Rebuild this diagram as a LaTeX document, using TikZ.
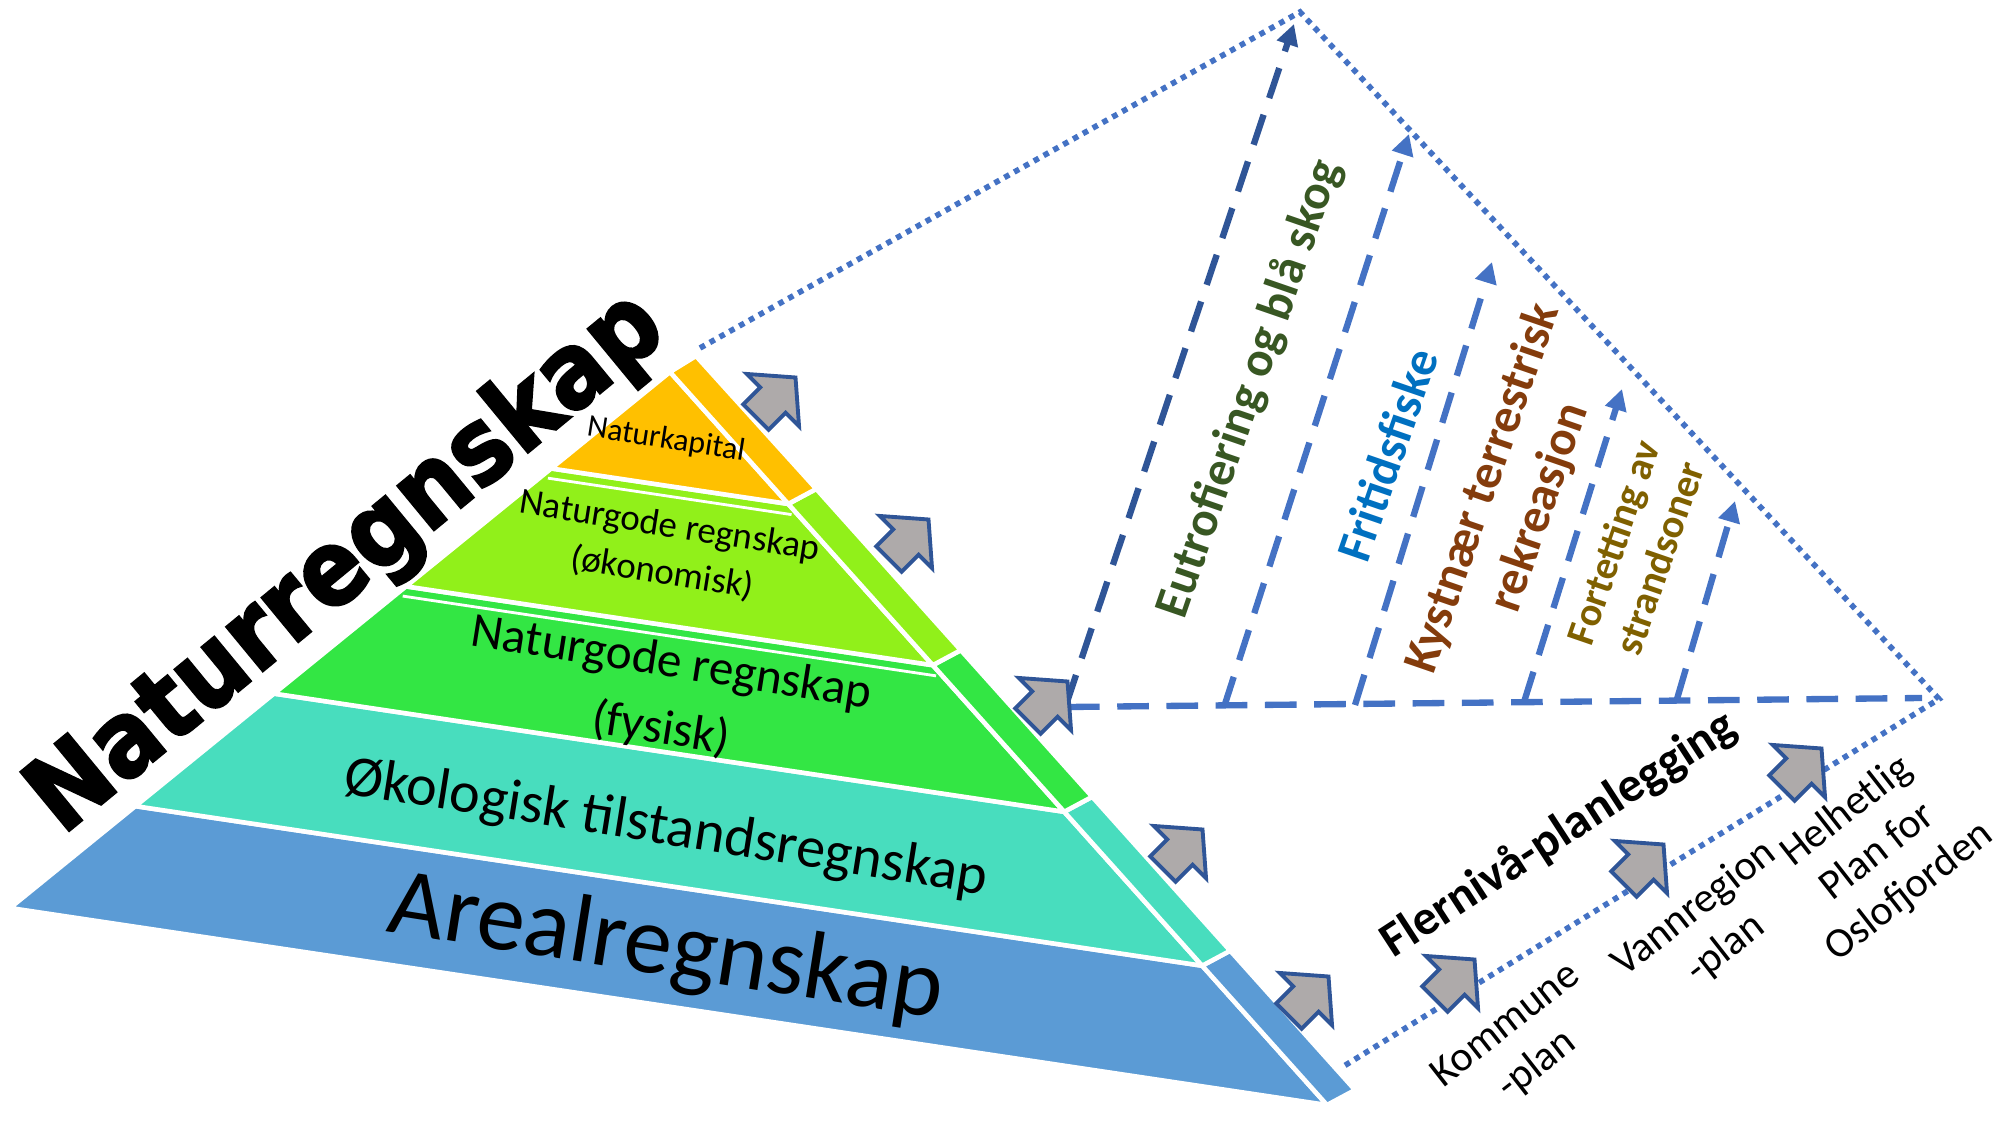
\documentclass[tikz,border=0pt]{standalone}
\usepackage{fontspec}
\setmainfont{Carlito}
\newfontfamily\tittelfont[BoldFeatures={FakeBold=2.5}]{DejaVu Sans}
\usetikzlibrary{calc,arrows.meta}

\definecolor{arealblue}{HTML}{5B9BD5}
\definecolor{okoteal}{HTML}{48DDBE}
\definecolor{fysgreen}{HTML}{33E644}
\definecolor{okongreen}{HTML}{91F01A}
\definecolor{kapyellow}{HTML}{FFC000}
\definecolor{linjeblue}{HTML}{4472C4}
\definecolor{mork}{HTML}{2F5597}
\definecolor{pilgra}{HTML}{AEAAAA}
\definecolor{eutgreen}{HTML}{385723}
\definecolor{fiskblue}{HTML}{0070C0}
\definecolor{kystbrown}{HTML}{843C0C}
\definecolor{fortolive}{HTML}{7F6000}

\begin{document}
\begin{tikzpicture}[x=0.01cm, y=-0.01cm,
  lag/.style={fill=#1, draw=white, line width=1.3pt, line join=round},
  prikk/.style={linjeblue, line width=1.6pt, dash pattern=on 1.6pt off 1.6pt},
  strek/.style={linjeblue, line width=1.8pt, dash pattern=on 9pt off 5pt},
  pil/.style={strek, -{Triangle[width=6pt,length=6pt]}},
  tjukkpil/.pic={\draw[fill=pilgra, draw=mork, line width=1.1pt, line join=miter]
    (-27,-18) -- (-3,-18) -- (-3,-37) -- (29,0) -- (-3,37) -- (-3,18) -- (-27,18) -- cycle;},
  lagtekst/.style={rotate=-9, align=center, inner sep=0pt},
  hogre/.style={rotate=71, align=center, inner sep=0pt, font=\bfseries\fontsize{14}{17}\selectfont},
  plan/.style={rotate=38, align=center, inner sep=0pt, font=\fontsize{12}{14.5}\selectfont}]

  \useasboundingbox (0,0) rectangle (2000,1125);

  % Pyramiden
  \coordinate (A) at (670,372);
  \coordinate (L) at (10,908);
  \coordinate (R) at (1327,1105);
  \foreach \lo/\hi/\farge in {0/0.19/arealblue, 0.19/0.40/okoteal, 0.40/0.60/fysgreen, 0.60/0.82/okongreen} {
    \filldraw[lag=\farge] ($(L)!\lo!(A)$) -- ($(R)!\lo!(A)$) -- ($(R)!\hi!(A)$) -- ($(L)!\hi!(A)$) -- cycle;
    \filldraw[lag=\farge] ($(R)!\lo!(A)$) -- ($(R)!\lo!(A)+(28,-15)$) -- ($(R)!\hi!(A)+(28,-15)$) -- ($(R)!\hi!(A)$) -- cycle;
  }
  \filldraw[lag=kapyellow] ($(L)!0.82!(A)$) -- ($(R)!0.82!(A)$) -- (A) -- cycle;
  \filldraw[lag=kapyellow] ($(R)!0.82!(A)$) -- ($(R)!0.82!(A)+(28,-15)$) -- ($(A)+(26,-16)$) -- (A) -- cycle;
  % doble skillelinjer
  \draw[white, line width=0.8pt] ($(L)!0.595!(A)+(0,7)$) -- ($(R)!0.595!(A)+(0,7)$);
  \draw[white, line width=0.8pt] ($(L)!0.815!(A)+(0,7)$) -- ($(R)!0.815!(A)+(0,7)$);

  % Lagene
  \node[lagtekst, font=\fontsize{9}{11}\selectfont] (kapital) at (666,440) {Naturkapital};
  \node[lagtekst, font=\fontsize{10.5}{13.5}\selectfont] (okonomisk) at (666,550) {Naturgode regnskap\\(økonomisk)};
  \node[lagtekst, font=\fontsize{14}{19}\selectfont] (fysisk) at (666,697) {Naturgode regnskap\\(fysisk)};
  \node[lagtekst, font=\fontsize{16.5}{19}\selectfont] (okologisk) at (666,829) {Økologisk tilstandsregnskap};
  \node[lagtekst, font=\fontsize{27.5}{30}\selectfont] (areal) at (666,950) {Arealregnskap};

  \node[rotate=39.5, inner sep=0pt, font=\tittelfont\bfseries\fontsize{26.5}{30}\selectfont] (tittel) at (348,564) {\scalebox{1}[1.12]{Naturregnskap}};

  % Trekanten
  \coordinate (pstart) at (700,348);
  \coordinate (topp) at (1300,12);
  \coordinate (spiss) at (1939,699);
  \coordinate (pslutt) at (1344,1066);
  \draw[prikk] (pstart) -- (topp) -- (spiss) -- (pslutt);

  \coordinate (g0) at (1068,707);
  \coordinate (g1) at (1922,698);
  \draw[strek] (g0) -- (g1);

  \coordinate (f0) at (1066,705);
  \coordinate (t0) at (1294,24);
  \draw[pil, mork] (f0) -- (t0);
  \foreach \fx/\fy/\tx/\ty [count=\i] in {1224/707/1409/134, 1355/705/1492/262, 1524/702/1622/389, 1677/699/1735/501} {
    \coordinate (f\i) at (\fx,\fy);
    \coordinate (t\i) at (\tx,\ty);
    \draw[pil] (f\i) -- (t\i);
  }

  % Tekster i trekanten
  \node[hogre, text=eutgreen] (eutro) at (1250,389) {Eutrofiering og blå skog};
  \node[hogre, text=fiskblue] (fiske) at (1387,455) {Fritidsfiske};
  \node[hogre, text=kystbrown] (kyst) at (1512,498) {Kystnær terrestrisk\\rekreasjon};
  \node[hogre, text=fortolive, font=\bfseries\fontsize{11.5}{14}\selectfont] (fort) at (1636,550) {Fortetting av\\strandsoner};

  % Planlegging
  \node[plan, rotate=-5, font=\bfseries\fontsize{14}{17}\selectfont] (flerniva) at (1559,835) {Flernivå-planlegging};
  \node[plan] (kommune) at (1522,1046) {Kommune\\-plan};
  \node[plan] (vannreg) at (1710,929) {Vannregion\\-plan};
  \node[plan] (helhet) at (1878,852) {Helhetlig\\Plan for\\Oslofjorden};

  % Piler
  \foreach \px/\py in {775/398, 908/540, 1047/702, 1182/850, 1308/997, 1454/980, 1643/865, 1801/769}
    \pic[rotate=45] at (\px,\py) {tjukkpil};
\end{tikzpicture}
\end{document}
